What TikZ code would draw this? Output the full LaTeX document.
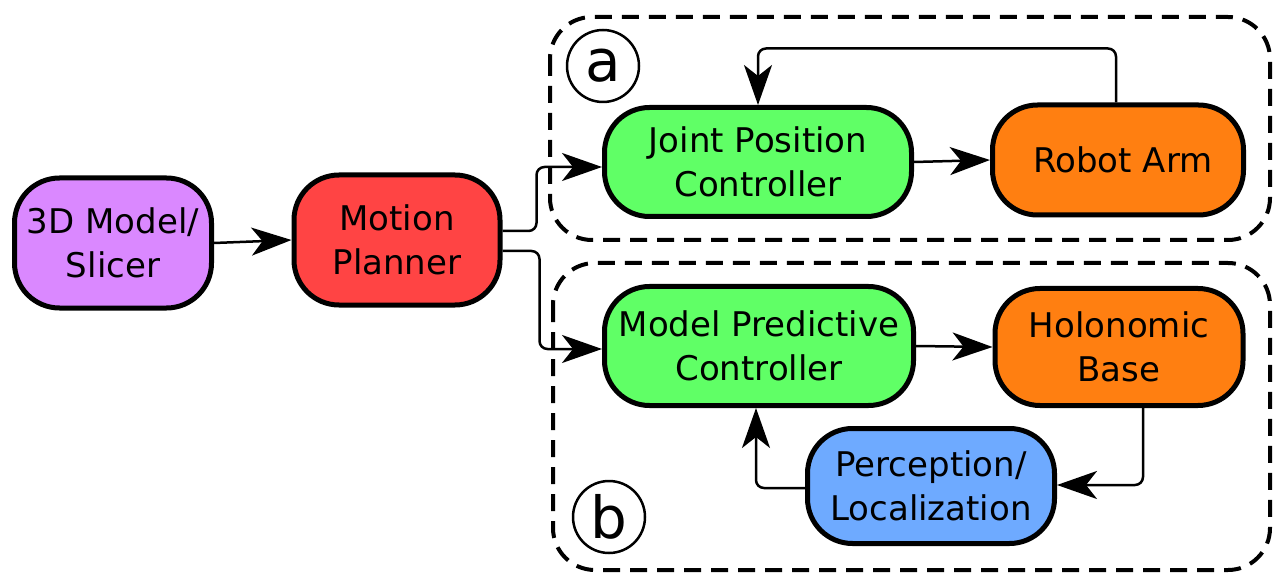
\documentclass[tikz,border=0pt]{standalone}
\usepackage{fontspec}
\setmainfont{DejaVu Sans}
\usetikzlibrary{arrows.meta}

\definecolor{slicerpurple}{HTML}{DA88FF}
\definecolor{plannerred}{HTML}{FF4444}
\definecolor{ctrlgreen}{HTML}{60FF66}
\definecolor{robotorange}{HTML}{FF7F11}
\definecolor{sensorblue}{HTML}{6EAAFF}

\tikzset{
  block/.style={draw, line width=5pt, rounded corners=45pt, align=center,
    inner sep=0pt, font=\fontsize{34}{44}\selectfont},
  link/.style={line width=2.5pt, rounded corners=8pt,
    -{Stealth[length=40pt,width=28pt,inset=11pt]}},
  group/.style={draw, line width=4pt, dash pattern=on 17pt off 10pt,
    rounded corners=42pt},
  tag/.style={draw, circle, line width=2.5pt, minimum size=72pt, inner sep=0pt,
    font=\fontsize{58}{58}\selectfont}
}

\begin{document}
\begin{tikzpicture}[x=1pt,y=-1pt]
\useasboundingbox (0,0) rectangle (1283,588);
% the two subsystems
\draw[group] (550,17) rectangle (1270,240);
\draw[group] (553,263) rectangle (1270,570);
\node[tag] (taga) at (603,66) {a};
\node[tag] (tagb) at (609,517) {b};
% blocks
\node[block, fill=slicerpurple, minimum width=197pt, minimum height=130pt] (slicer) at (113,243) {3D Model/\\Slicer};
\node[block, fill=plannerred, minimum width=206pt, minimum height=130pt] (planner) at (397,240) {Motion\\Planner};
\node[block, fill=ctrlgreen, minimum width=307pt, minimum height=109pt] (jpc) at (758,162) {Joint Position\\Controller};
\node[block, fill=robotorange, minimum width=251pt, minimum height=110pt] (arm) at (1118,160) {\hspace{10pt}Robot Arm};
\node[block, fill=ctrlgreen, minimum width=309pt, minimum height=119pt] (mpc) at (759,346) {Model Predictive\\Controller};
\node[block, fill=robotorange, minimum width=248pt, minimum height=117pt] (base) at (1119,347) {Holonomic\\Base};
\node[block, fill=sensorblue, minimum width=247pt, minimum height=115pt] (percep) at (931,486) {Perception/\\Localization};
% connectors
\draw[link] (slicer.east) -- (planner.west);
\draw[link] ([yshift=9pt]planner.east) -- ++(34,0) |- ([yshift=-5pt]jpc.west);
\draw[link] ([yshift=-11pt]planner.east) -- ++(37,0) |- ([yshift=-3pt]mpc.west);
\draw[link] (jpc.east) -- (arm.west);
\draw[link] ([xshift=-2pt]arm.north) -- ++(0,-54) -| (jpc.north);
\draw[link] (mpc.east) -- (base.west);
\draw[link] ([xshift=24pt]base.south) |- ([yshift=1pt]percep.east);
\draw[link] ([yshift=-2pt]percep.west) -| ([xshift=-3pt]mpc.south);
\end{tikzpicture}
\end{document}
